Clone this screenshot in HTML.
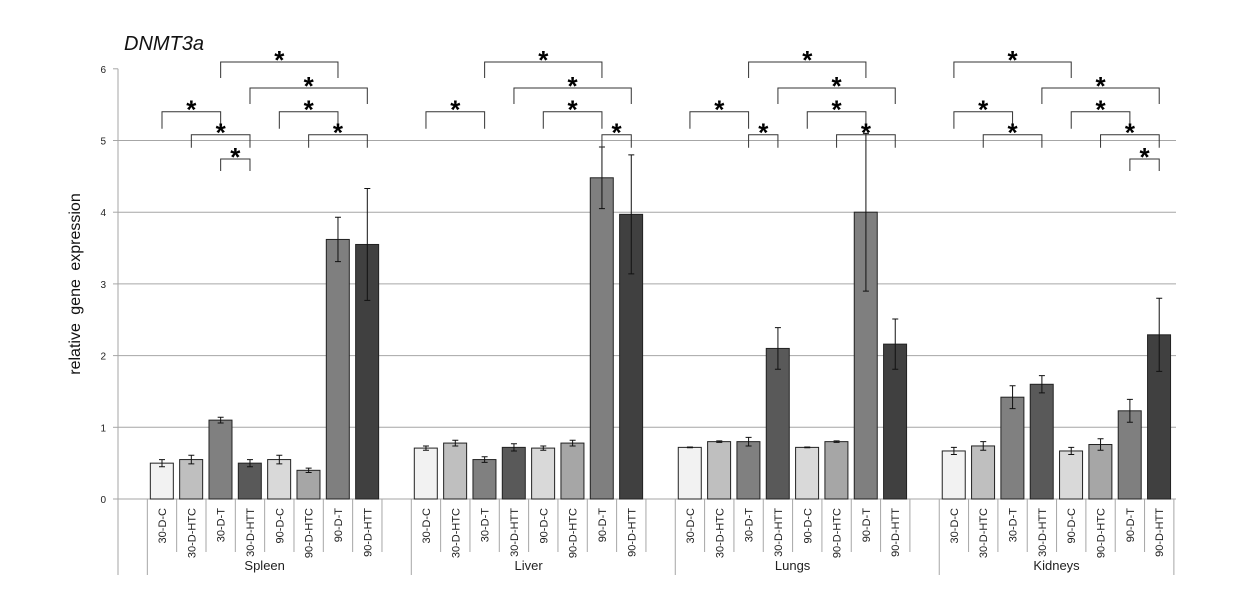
<!DOCTYPE html>
<html><head><meta charset="utf-8"><style>
body{margin:0;background:#fff;width:1255px;height:607px;overflow:hidden}
svg{font-family:"Liberation Sans","DejaVu Sans",sans-serif}
</style></head><body>
<svg id="chart" width="1255" height="607" viewBox="0 0 1255 607"></svg>
<script>
const groups=["Spleen","Liver","Lungs","Kidneys"];
const categories=["30-D-C","30-D-HTC","30-D-T","30-D-HTT","90-D-C","90-D-HTC","90-D-T","90-D-HTT"];
const spleenVals=[0.5,0.55,1.1,0.5,0.55,0.4,3.62,3.55];
const spleenErr=[0.05,0.06,0.04,0.05,0.06,0.03,0.31,0.78];
const liverVals=[0.71,0.78,0.55,0.72,0.71,0.78,4.48,3.97];
const liverErr=[0.03,0.04,0.04,0.05,0.03,0.04,0.43,0.83];
const lungsVals=[0.72,0.8,0.8,2.1,0.72,0.8,4.0,2.16];
const lungsErr=[0.005,0.01,0.06,0.29,0.005,0.01,1.1,0.35];
const kidneysVals=[0.67,0.74,1.42,1.6,0.67,0.76,1.23,2.29];
const kidneysErr=[0.05,0.06,0.16,0.12,0.05,0.08,0.16,0.51];
const yTicks=[0,1,2,3,4,5,6];
// brackets: [group, fromBar, toBar, tier]
const brackets=[[0,2,6,0],[0,3,7,1],[0,0,2,2],[0,4,6,2],[0,1,3,3],[0,5,7,3],[0,2,3,4],
[1,2,6,0],[1,3,7,1],[1,0,2,2],[1,4,6,2],[1,6,7,3],
[2,2,6,0],[2,3,7,1],[2,0,2,2],[2,4,6,2],[2,2,3,3],[2,5,7,3],
[3,0,4,0],[3,3,7,1],[3,0,2,2],[3,4,6,2],[3,1,3,3],[3,5,7,3],[3,6,7,4]];
const vals=[spleenVals,liverVals,lungsVals,kidneysVals];
const errs=[spleenErr,liverErr,lungsErr,kidneysErr];
const colors=["#f2f2f2","#bfbfbf","#808080","#595959","#d9d9d9","#a6a6a6","#7f7f7f","#404040"];
const NS="http://www.w3.org/2000/svg",svg=document.getElementById("chart");
function mk(t,a,txt){const e=document.createElementNS(NS,t);for(const k in a)e.setAttribute(k,a[k]);if(txt!==undefined)e.textContent=txt;svg.appendChild(e);return e;}
const X0=118,SLOT=29.33,Y0=499,YS=71.7;
const y=v=>Y0-v*YS;
const gx=g=>X0+SLOT*(1+9*g);
const bx=(g,i)=>gx(g)+SLOT*i;
const tierY=[62,88,111.7,134.7,159];
const tierD=[16,16,17,13,12];
// gridlines
yTicks.forEach(t=>{
 if(t>0&&t<6){const l=mk("line",{x1:X0,x2:1176,y1:y(t),y2:y(t),stroke:"#a6a6a6","stroke-width":1});
 
 }
 const tk=mk("line",{x1:X0-5,x2:X0,y1:y(t),y2:y(t),stroke:"#a6a6a6"});
 
 
 const lb=mk("text",{x:X0-12,y:y(t)+4,"font-size":10,"text-anchor":"end",fill:"#222"},t);
 
 
});
let ax=mk("line",{x1:X0,x2:X0,y1:y(6),y2:575,stroke:"#a6a6a6"});


let bl=mk("line",{x1:X0,x2:1176,y1:Y0,y2:Y0,stroke:"#a6a6a6"});


groups.forEach((gn,g)=>{
 const gl=mk("line",{x1:gx(g),x2:gx(g),y1:Y0,y2:575,stroke:"#a6a6a6"});
 
 
 for(let i=1;i<=8;i++){
  const sl=mk("line",{x1:bx(g,i),x2:bx(g,i),y1:Y0,y2:(g===3&&i===8)?575:552,stroke:"#a6a6a6"});
  
  
 }
 const gt=mk("text",{x:gx(g)+SLOT*4,y:570,"font-size":13,"text-anchor":"middle",fill:"#222"},gn);
 
 
 categories.forEach((c,i)=>{
  const v=vals[g][i],e=errs[g][i],x=bx(g,i)+3,cx=bx(g,i)+SLOT/2;
  const r=mk("rect",{x:x,y:y(v),width:23,height:v*YS,fill:colors[i],stroke:"#222","stroke-width":1});
  
  
  const eb=mk("path",{d:`M${cx},${y(v+e)}V${y(v-e)}M${cx-3},${y(v+e)}H${cx+3}M${cx-3},${y(v-e)}H${cx+3}`,stroke:"#111",fill:"none","stroke-width":1});
  
  
  const t=mk("text",{transform:`translate(${cx+4},508) rotate(-90)`,"font-size":11,"text-anchor":"end",fill:"#222"},c);
  
  
 });
});
brackets.forEach(b=>{
 const [g,a,c,t]=b,x1=bx(g,a)+SLOT/2,x2=bx(g,c)+SLOT/2,yy=tierY[t];
 const p=mk("path",{d:`M${x1},${yy+tierD[t]}V${yy}H${x2}V${yy+tierD[t]}`,stroke:"#333",fill:"none","stroke-width":1});
 
 
 const s=mk("text",{x:(x1+x2)/2,y:yy+7,"font-size":26,"font-weight":"bold","text-anchor":"middle",fill:"#000"},"*");
 
 
});
const tt=mk("text",{x:124,y:50,"font-size":20,"font-style":"italic",fill:"#111"},"DNMT3a");


const yl=mk("text",{transform:"translate(80,284) rotate(-90)","font-size":16,"text-anchor":"middle","word-spacing":"4px",fill:"#111"},"relative gene expression");


</script>
</body></html>
